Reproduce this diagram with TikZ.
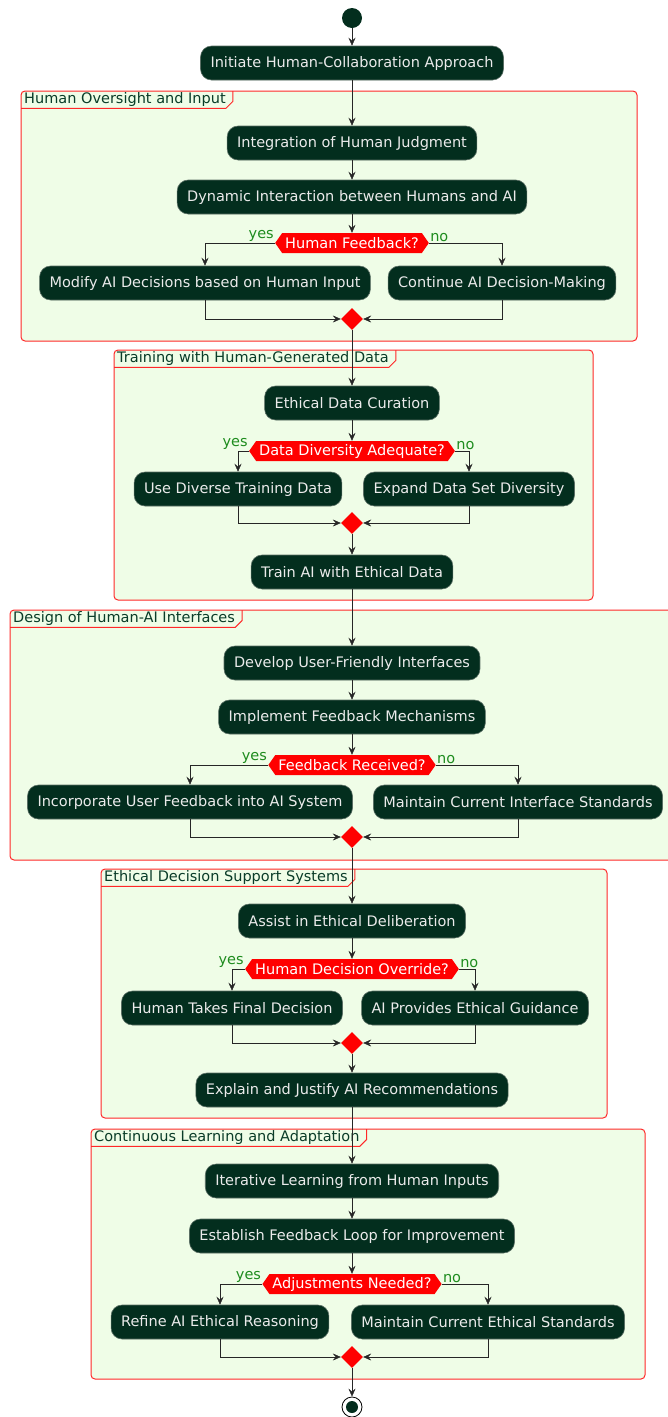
\documentclass[tikz,border=0pt]{standalone}
\usepackage{fontspec}
\setmainfont{DejaVu Sans}
\usepackage{tikz}
\usetikzlibrary{arrows.meta,shapes.geometric,shapes.symbols,positioning}
\definecolor{actgreen}{RGB}{3,46,30}
\definecolor{actedge}{RGB}{90,110,100}
\definecolor{lanefill}{RGB}{239,253,231}
\definecolor{lanered}{RGB}{255,40,40}
\definecolor{lanetext}{RGB}{10,60,40}
\definecolor{yesno}{RGB}{30,140,30}
\tikzstyle{act} = [rectangle, rounded corners=11pt, fill=actgreen, draw=actedge, line width=0.6pt, text=white!92!black, minimum height=34pt, inner xsep=10pt, font=\fontsize{14.5}{17}\selectfont]
\tikzstyle{decide} = [signal, signal to=west and east, signal pointer angle=110, fill=red, text=white, inner xsep=3pt, inner ysep=1.5pt, minimum height=20pt, font=\fontsize{14.5}{17}\selectfont]
\tikzstyle{merge} = [diamond, fill=red, minimum size=22pt, inner sep=0pt]
\tikzstyle{yn} = [text=yesno, inner sep=1pt, font=\fontsize{14.5}{17}\selectfont]
\tikzstyle{lane} = [draw=lanered, fill=lanefill, line width=1pt, rounded corners=4pt]
\tikzstyle{lanetitle} = [anchor=north west, text=lanetext, inner xsep=3pt, inner ysep=1pt, minimum height=17pt, font=\fontsize{14.5}{17}\selectfont]
\tikzstyle{arrow} = [thin, color=black!85, -{Stealth[length=8pt,width=7pt,inset=3pt]}]

\begin{document}
\begin{tikzpicture}[x=1pt,y=-1pt]
\useasboundingbox (0,0) rectangle (667,1417);

% partition frames
\draw[lane] (21,91) rectangle (637,341);
\node[lanetitle] (t1) at (21,91) {Human Oversight and Input};
\draw[lanered, line width=1pt] (t1.south west) -- ([xshift=-3pt]t1.south east) -- ([xshift=4pt,yshift=7pt]t1.south east) -- ([xshift=4pt]t1.north east);

\draw[lane] (114,350) rectangle (593,600);
\node[lanetitle] (t2) at (114,350) {Training with Human-Generated Data};
\draw[lanered, line width=1pt] (t2.south west) -- ([xshift=-3pt]t2.south east) -- ([xshift=4pt,yshift=7pt]t2.south east) -- ([xshift=4pt]t2.north east);

\draw[lane] (10,610) rectangle (675,860);
\node[lanetitle] (t3) at (10,610) {Design of Human-AI Interfaces};
\draw[lanered, line width=1pt] (t3.south west) -- ([xshift=-3pt]t3.south east) -- ([xshift=4pt,yshift=7pt]t3.south east) -- ([xshift=4pt]t3.north east);

\draw[lane] (101,869) rectangle (607,1118);
\node[lanetitle] (t4) at (101,869) {Ethical Decision Support Systems};
\draw[lanered, line width=1pt] (t4.south west) -- ([xshift=-3pt]t4.south east) -- ([xshift=4pt,yshift=7pt]t4.south east) -- ([xshift=4pt]t4.north east);

\draw[lane] (91,1129) rectangle (645,1379);
\node[lanetitle] (t5) at (91,1129) {Continuous Learning and Adaptation};
\draw[lanered, line width=1pt] (t5.south west) -- ([xshift=-3pt]t5.south east) -- ([xshift=4pt,yshift=7pt]t5.south east) -- ([xshift=4pt]t5.north east);

% start
\node[circle, fill=actgreen, minimum size=20pt, inner sep=0pt] (start) at (352,18) {};
\node[act] (init) at (352,63) {Initiate Human-Collaboration Approach};

% human oversight
\node[act] (judg) at (352,143) {Integration of Human Judgment};
\node[act] (dyn) at (352,197) {Dynamic Interaction between Humans and AI};
\node[decide] (d1) at (352,243) {Human Feedback?};
\node[act] (mod) at (205,283) {Modify AI Decisions based on Human Input};
\node[act] (cont) at (502,283) {Continue AI Decision-Making};
\node[merge] (m1) at (352,319) {};
\node[yn, anchor=south east] (y1) at (d1.west) {yes};
\node[yn, anchor=south west] (n1) at (d1.east) {no};

% training
\node[act] (cur) at (352,403) {Ethical Data Curation};
\node[decide] (d2) at (352,451) {Data Diversity Adequate?};
\node[act] (use) at (238,489) {Use Diverse Training Data};
\node[act] (exp) at (469,489) {Expand Data Set Diversity};
\node[merge] (m2) at (352,523) {};
\node[act] (train) at (352,572) {Train AI with Ethical Data};
\node[yn, anchor=south east] (y2) at (d2.west) {yes};
\node[yn, anchor=south west] (n2) at (d2.east) {no};

% interfaces
\node[act] (dev) at (352,663) {Develop User-Friendly Interfaces};
\node[act] (impl) at (352,717) {Implement Feedback Mechanisms};
\node[decide] (d3) at (352,765) {Feedback Received?};
\node[act] (inc) at (190,802) {Incorporate User Feedback into AI System};
\node[act] (maint) at (518,802) {Maintain Current Interface Standards};
\node[merge] (m3) at (352,837) {};
\node[yn, anchor=south east] (y3) at (d3.west) {yes};
\node[yn, anchor=south west] (n3) at (d3.east) {no};

% decision support
\node[act] (assist) at (352,921) {Assist in Ethical Deliberation};
\node[decide] (d4) at (352,969) {Human Decision Override?};
\node[act] (final) at (232,1008) {Human Takes Final Decision};
\node[act] (guide) at (475,1008) {AI Provides Ethical Guidance};
\node[merge] (m4) at (352,1043) {};
\node[act] (expl) at (352,1090) {Explain and Justify AI Recommendations};
\node[yn, anchor=south east] (y4) at (d4.west) {yes};
\node[yn, anchor=south west] (n4) at (d4.east) {no};

% learning
\node[act] (iter) at (352,1181) {Iterative Learning from Human Inputs};
\node[act] (loop) at (352,1236) {Establish Feedback Loop for Improvement};
\node[decide] (d5) at (352,1284) {Adjustments Needed?};
\node[act] (ref) at (220,1322) {Refine AI Ethical Reasoning};
\node[act] (keep) at (488,1322) {Maintain Current Ethical Standards};
\node[merge] (m5) at (352,1357) {};
\node[yn, anchor=south east] (y5) at (d5.west) {yes};
\node[yn, anchor=south west] (n5) at (d5.east) {no};

% end
\node[circle, draw=black, thick, fill=white, minimum size=20pt, inner sep=0pt] (stop) at (352,1407) {};
\node[circle, fill=actgreen, minimum size=12pt, inner sep=0pt] (stopdot) at (stop) {};

% flow
\draw[arrow] (start) -- (init);
\draw[arrow] (init) -- (judg);
\draw[arrow] (judg) -- (dyn);
\draw[arrow] (dyn) -- (d1.north);
\draw[arrow] (d1.west) -| (mod.north);
\draw[arrow] (d1.east) -| (cont.north);
\draw[arrow] (mod.south) |- (m1.west);
\draw[arrow] (cont.south) |- (m1.east);
\draw[arrow] (m1) -- (cur);
\draw[arrow] (cur) -- (d2.north);
\draw[arrow] (d2.west) -| (use.north);
\draw[arrow] (d2.east) -| (exp.north);
\draw[arrow] (use.south) |- (m2.west);
\draw[arrow] (exp.south) |- (m2.east);
\draw[arrow] (m2) -- (train);
\draw[arrow] (train) -- (dev);
\draw[arrow] (dev) -- (impl);
\draw[arrow] (impl) -- (d3.north);
\draw[arrow] (d3.west) -| (inc.north);
\draw[arrow] (d3.east) -| (maint.north);
\draw[arrow] (inc.south) |- (m3.west);
\draw[arrow] (maint.south) |- (m3.east);
\draw[arrow] (m3) -- (assist);
\draw[arrow] (assist) -- (d4.north);
\draw[arrow] (d4.west) -| (final.north);
\draw[arrow] (d4.east) -| (guide.north);
\draw[arrow] (final.south) |- (m4.west);
\draw[arrow] (guide.south) |- (m4.east);
\draw[arrow] (m4) -- (expl);
\draw[arrow] (expl) -- (iter);
\draw[arrow] (iter) -- (loop);
\draw[arrow] (loop) -- (d5.north);
\draw[arrow] (d5.west) -| (ref.north);
\draw[arrow] (d5.east) -| (keep.north);
\draw[arrow] (ref.south) |- (m5.west);
\draw[arrow] (keep.south) |- (m5.east);
\draw[arrow] (m5) -- (stop);
\end{tikzpicture}
\end{document}
